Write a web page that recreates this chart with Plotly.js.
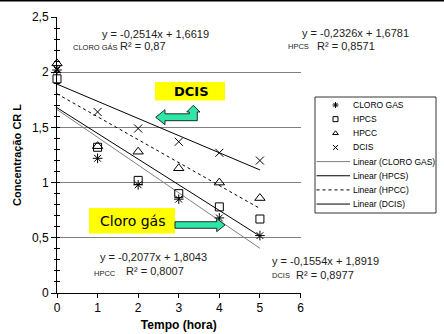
<!DOCTYPE html>
<html>
<head>
<meta charset="utf-8">
<script src="https://cdn.plot.ly/plotly-3.0.1.min.js"></script>
<style>html,body{margin:0;padding:0;background:#fff;}#chart{width:444px;height:334px;}</style>
</head>
<body>
<div id="chart"></div>
<script>
// ---- data ----
const tempo = [0, 1, 2, 3, 4, 5];
const cloroGas = [2.02, 1.22, 0.98, 0.85, 0.68, 0.52];
const hpcs = [1.94, 1.32, 1.02, 0.90, 0.78, 0.67];
const hpcc = [2.08, 1.33, 1.28, 1.13, 1.00, 0.86];
const dcis = [2.03, 1.64, 1.49, 1.37, 1.27, 1.20];
const seriesNames = ['CLORO GAS', 'HPCS', 'HPCC', 'DCIS'];
const slopes = [-0.2514, -0.2326, -0.2077, -0.1554];
const intercepts = [1.6619, 1.6781, 1.8043, 1.8919];
const r2Text = ['0,87', '0,8571', '0,8007', '0,8977'];
const eqText = ['y = -0,2514x + 1,6619', 'y = -0,2326x + 1,6781', 'y = -0,2077x + 1,8043', 'y = -0,1554x + 1,8919'];
const eqLabels = ['CLORO GÁS', 'HPCS', 'HPCC', 'DCIS'];
const trendX = [0, 5];

// ---- geometry helpers ----
const W = 444, H = 334, ML = 57, MR = 4, MT = 17, MB = 41;
const PW = W - ML - MR, PH = H - MT - MB;
const px = x => (x - ML) / PW;
const py = y => (H - MB - y) / PH;

const seriesY = [cloroGas, hpcs, hpcc, dcis];
const symbols = ['asterisk-open', 'square-open', 'triangle-up-open', 'x-thin-open'];
const msizes = [8, 8, 9, 8];
const lineColors = ['#808080', '#000', '#000', '#000'];
const lineDash = ['solid', 'solid', 'dot', 'solid'];

const traces = [];
// trend lines
seriesNames.forEach((n, i) => {
  traces.push({
    x: trendX, y: trendX.map(t => intercepts[i] + slopes[i] * t),
    mode: 'lines', name: 'Linear (' + n + ')', showlegend: false, hoverinfo: 'skip',
    line: {color: lineColors[i], width: 1, dash: lineDash[i]}
  });
});
// markers
seriesNames.forEach((n, i) => {
  traces.push({
    x: tempo, y: seriesY[i], mode: 'markers', name: n, showlegend: false, cliponaxis: false,
    marker: {symbol: symbols[i], size: msizes[i], color: '#000', line: {color: '#000', width: 1}}
  });
});
// dummy for inside minor ticks axis
traces.push({x: [0], y: [null], yaxis: 'y3', mode: 'markers', showlegend: false, hoverinfo: 'skip'});

// manual legend (drawn in legend subplot x2/y2 with pixel units)
const legRow0 = 105, legStep = 14.15, legMarkX = 335.5, legLine = [316.5, 350], legTextX = 350.5;
seriesNames.forEach((n, i) => {
  traces.push({
    x: [legMarkX], y: [legRow0 + i * legStep], xaxis: 'x2', yaxis: 'y2', mode: 'markers',
    showlegend: false, hoverinfo: 'skip', cliponaxis: false,
    marker: {symbol: symbols[i], size: 5, color: '#000', line: {color: '#000', width: 1}}
  });
});
seriesNames.forEach((n, i) => {
  const yy = legRow0 + (i + 4) * legStep;
  traces.push({
    x: legLine, y: [yy, yy], xaxis: 'x2', yaxis: 'y2', mode: 'lines',
    showlegend: false, hoverinfo: 'skip', cliponaxis: false,
    line: {color: lineColors[i], width: 1, dash: lineDash[i]}
  });
});

const annotations = [];
const legTexts = seriesNames.concat(seriesNames.map(n => 'Linear (' + n + ')'));
legTexts.forEach((t, i) => {
  annotations.push({xref: 'paper', yref: 'paper', x: px(legTextX), y: py(legRow0 + i * legStep),
    xanchor: 'left', yanchor: 'middle', showarrow: false, text: t,
    font: {family: 'Liberation Sans, Arial, sans-serif', size: 8.5, color: '#000'}});
});

// equation labels
const eqPos = [
  {eq: [100, 34], lab: [71, 47], r2: [118, 46]},
  {eq: [300, 33], lab: [286, 46.5], r2: [315, 45.5]},
  {eq: [98, 257], lab: [92, 273], r2: [124, 271]},
  {eq: [270, 261], lab: [270, 275.5], r2: [294, 275]}
];
const eqFont = {family: 'Liberation Sans, Arial, sans-serif', size: 11, color: '#222'};
eqPos.forEach((p, i) => {
  annotations.push({xref: 'paper', yref: 'paper', x: px(p.eq[0]), y: py(p.eq[1]), xanchor: 'left', yanchor: 'middle',
    showarrow: false, text: eqText[i], font: eqFont});
  annotations.push({xref: 'paper', yref: 'paper', x: px(p.lab[0]), y: py(p.lab[1]), xanchor: 'left', yanchor: 'middle',
    showarrow: false, text: eqLabels[i], font: {family: 'Liberation Sans, Arial, sans-serif', size: 7.5, color: '#222'}});
  annotations.push({xref: 'paper', yref: 'paper', x: px(p.r2[0]), y: py(p.r2[1]), xanchor: 'left', yanchor: 'middle',
    showarrow: false, text: 'R² = ' + r2Text[i], font: eqFont});
});

// callout texts
annotations.push({xref: 'paper', yref: 'paper', x: px(191), y: py(91.5), xanchor: 'center', yanchor: 'middle',
  showarrow: false, text: '<b>DCIS</b>', font: {family: 'DejaVu Sans, Verdana, sans-serif', size: 13, color: '#000'}});
annotations.push({xref: 'paper', yref: 'paper', x: px(132), y: py(220.5), xanchor: 'center', yanchor: 'middle',
  showarrow: false, text: 'Cloro gás', font: {family: 'DejaVu Sans, Verdana, sans-serif', size: 14, color: '#000'}});

// paths
const pth = pts => 'M ' + pts.map(p => px(p[0]).toFixed(5) + ',' + py(p[1]).toFixed(5)).join(' L ') + ' Z';
const arrowFill = '#2EE6A6';
const shapes = [
  {type: 'line', xref: 'paper', yref: 'paper', x0: px(0), x1: px(444), y0: py(0.8), y1: py(0.8), line: {color: '#000', width: 1.6}},
  {type: 'rect', xref: 'paper', yref: 'paper', x0: px(155), x1: px(225), y0: py(82), y1: py(100.5), fillcolor: '#FFFF00', line: {width: 0}, layer: 'above'},
  {type: 'rect', xref: 'paper', yref: 'paper', x0: px(89), x1: px(175), y0: py(208), y1: py(233.5), fillcolor: '#FFFF00', line: {width: 0}, layer: 'above'},
  {type: 'path', xref: 'paper', yref: 'paper', layer: 'above', fillcolor: arrowFill, line: {color: '#000', width: 0.8},
    path: pth([[155.7, 117.3], [165, 109.7], [165, 113.8], [189.3, 113.8], [189.3, 112], [186.7, 112], [193.3, 105.3], [200, 112], [197.3, 112], [197.3, 120.7], [165, 120.7], [165, 124.7]])},
  {type: 'path', xref: 'paper', yref: 'paper', layer: 'above', fillcolor: arrowFill, line: {color: '#000', width: 0.8},
    path: pth([[175, 221.7], [216.7, 221.7], [216.7, 218.3], [225, 225], [216.7, 231.7], [216.7, 228.3], [175, 228.3]])},
  {type: 'rect', xref: 'paper', yref: 'paper', x0: px(315), x1: px(436), y0: py(97), y1: py(213), fillcolor: 'rgba(0,0,0,0)', line: {color: '#000', width: 0.8}, layer: 'below'}
];

const axFont = {family: 'Liberation Sans, Arial, sans-serif', size: 12, color: '#000'};
const layout = {
  width: W, height: H,
  margin: {l: ML, r: MR, t: MT, b: MB, pad: 0},
  paper_bgcolor: '#fff', plot_bgcolor: 'rgba(0,0,0,0)',
  separators: ', ',
  showlegend: false,
  font: axFont,
  xaxis: {
    domain: [0, px(300.5)], range: [0, 6], dtick: 1, tick0: 0, showgrid: false, zeroline: false,
    showline: true, linecolor: '#000', linewidth: 1, ticks: 'outside', ticklen: 4, tickcolor: '#000',
    tickfont: axFont, automargin: false,
    title: {text: '<b>Tempo (hora)</b>', font: {family: 'Liberation Sans, Arial, sans-serif', size: 12, color: '#000'}, standoff: 6}
  },
  yaxis: {
    domain: [0, 1], range: [0, 2.5], dtick: 0.5, tick0: 0, showgrid: true, gridcolor: '#808080', gridwidth: 1,
    zeroline: false, showline: true, linecolor: '#000', linewidth: 1, ticks: 'outside', ticklen: 5, tickcolor: '#000',
    minor: {dtick: 0.1, ticks: 'outside', ticklen: 2.5, tickcolor: '#000', showgrid: false},
    tickfont: axFont, automargin: false,
    title: {text: '<b>Concentração CR L</b>', font: {family: 'Liberation Sans, Arial, sans-serif', size: 11, color: '#000'}, standoff: 8}
  },
  yaxis3: {
    overlaying: 'y', anchor: 'x', side: 'left', range: [0, 2.5], dtick: 0.1, tick0: 0, ticks: 'inside', ticklen: 3,
    tickcolor: '#000', showticklabels: false, showgrid: false, zeroline: false, showline: false
  },
  xaxis2: {domain: [px(315), px(436)], range: [315, 436], visible: false, anchor: 'y2', fixedrange: true},
  yaxis2: {domain: [py(213), py(97)], range: [213, 97], visible: false, anchor: 'x2', fixedrange: true},
  annotations: annotations,
  shapes: shapes
};

Plotly.newPlot('chart', traces, layout, {staticPlot: true, displayModeBar: false});
</script>
</body>
</html>
